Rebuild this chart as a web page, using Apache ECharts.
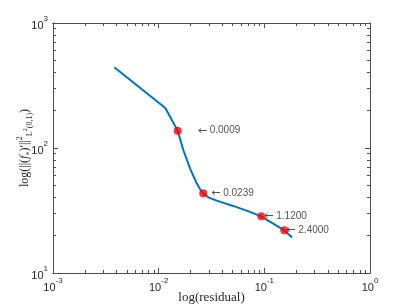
<!DOCTYPE html>
<html>
<head>
<meta charset="utf-8">
<script src="https://cdn.jsdelivr.net/npm/echarts@6/dist/echarts.min.js"></script>
<style>html,body{margin:0;padding:0;background:#fff}#c{width:409px;height:307px}</style>
</head>
<body>
<div id="c"></div>
<script>
// Curve (residual, norm)
const residual = [0.0038, 0.01156, 0.01514, 0.0171, 0.0198, 0.0229, 0.0246, 0.0264, 0.0295, 0.0354, 0.0508, 0.0731, 0.0935, 0.1545, 0.183];
const normVals = [442, 209, 137.5, 96.4, 68.8, 52.2, 47.0, 43.4, 40.3, 37.9, 34.4, 30.8, 28.4, 21.96, 19.2];
// Marked points
const markX = [0.01514, 0.0264, 0.0935, 0.1545];
const markY = [137.5, 43.4, 28.4, 21.96];
const markLabels = ['0.0009', '0.0239', '1.1200', '2.4000'];
const markLabelGap = [16, 4, -1, -2];
// Ticks
const xMajor = [0.001, 0.01, 0.1, 1];
const yMajor = [10, 100, 1000];
const xMinor = [];
const yMinor = [];
[0.001, 0.01, 0.1].forEach(d => { for (let k = 2; k <= 9; k++) xMinor.push(d * k); });
[10, 100].forEach(d => { for (let k = 2; k <= 9; k++) yMinor.push(d * k); });

const axisColor = '#4d4d4d';
const txtColor = '#262626';
const supRich = {
  b: {fontSize: 11, color: txtColor, fontFamily: 'Liberation Sans, Arial', lineHeight: 16, verticalAlign: 'bottom'},
  s: {fontSize: 8, color: txtColor, fontFamily: 'Liberation Sans, Arial', lineHeight: 16, verticalAlign: 'top'}
};
const fmt = v => '{b|10}{s|' + Math.round(Math.log10(v)) + '}';

function mkAxis(pos, isX, minor, labels, min, max) {
  return {
    type: 'log', logBase: 10, min: min, max: max, position: pos,
    gridIndex: 0,
    axisLine: {show: true, onZero: false, lineStyle: {color: axisColor, width: 1}},
    axisTick: {show: true, inside: true, length: minor ? 3 : 5,
      customValues: minor ? (isX ? xMinor : yMinor) : (isX ? xMajor : yMajor),
      lineStyle: {color: axisColor, width: 1}},
    axisLabel: labels ? {show: true, customValues: isX ? xMajor : yMajor, formatter: fmt, rich: supRich, margin: isX ? 4 : 5} : {show: false},
    splitLine: {show: false},
    minorTick: {show: false}
  };
}

const xAxes = [
  mkAxis('bottom', true, false, true, 0.001, 1),
  mkAxis('bottom', true, true, false, 0.001, 1),
  mkAxis('top', true, false, false, 0.001, 1),
  mkAxis('top', true, true, false, 0.001, 1)
];
xAxes[0].name = 'log(residual)';
xAxes[0].nameLocation = 'middle';
xAxes[0].nameGap = 18;
xAxes[0].nameMoveOverlap = false;
xAxes[0].nameTextStyle = {fontFamily: 'Liberation Serif, DejaVu Serif, serif', fontSize: 13, color: txtColor};

const yAxes = [
  mkAxis('left', false, false, true, 10, 1000),
  mkAxis('left', false, true, false, 10, 1000),
  mkAxis('right', false, false, false, 10, 1000),
  mkAxis('right', false, true, false, 10, 1000)
];
yAxes[0].name = '{n|log(||(}{i|f}{sb|*}{n|)′||}{sp|2}{sb|L}{ssp|2}{sb|(0,1)}{n|)}';
yAxes[0].nameLocation = 'middle';
yAxes[0].nameRotate = 90;
yAxes[0].nameGap = 19;
yAxes[0].nameMoveOverlap = false;
const serif = 'Liberation Serif, DejaVu Serif, serif';
yAxes[0].nameTextStyle = {
  color: txtColor,
  rich: {
    n: {fontFamily: serif, fontSize: 12, color: txtColor, lineHeight: 18, verticalAlign: 'middle'},
    i: {fontFamily: serif, fontSize: 12, fontStyle: 'italic', color: txtColor, lineHeight: 18, verticalAlign: 'middle'},
    sb: {fontFamily: serif, fontSize: 8, color: txtColor, lineHeight: 18, verticalAlign: 'bottom'},
    sp: {fontFamily: serif, fontSize: 8, color: txtColor, lineHeight: 18, verticalAlign: 'top'},
    ssp: {fontFamily: serif, fontSize: 6, color: txtColor, lineHeight: 18, verticalAlign: 'middle'}
  }
};

const chart = echarts.init(document.getElementById('c'), null, {renderer: 'canvas'});
chart.setOption({
  animation: false,
  backgroundColor: '#fff',
  grid: {left: 53, top: 23, right: 39, bottom: 34, containLabel: false, outerBoundsMode: 'none'},
  xAxis: xAxes,
  yAxis: yAxes,
  series: [
    {
      type: 'line', xAxisIndex: 0, yAxisIndex: 0,
      data: residual.map((x, i) => [x, normVals[i]]),
      showSymbol: false, symbol: 'none',
      lineStyle: {color: '#0072BD', width: 2},
      z: 2
    },
    {
      type: 'scatter', xAxisIndex: 0, yAxisIndex: 0,
      symbol: 'circle', symbolSize: 8,
      itemStyle: {color: '#ff0000'},
      z: 3,
      data: markX.map((x, i) => ({
        value: [x, markY[i]],
        label: {
          show: true, position: 'right', distance: markLabelGap[i],
          formatter: '{a|←} ' + markLabels[i],
          fontFamily: 'Liberation Sans, Arial', fontSize: 10, color: txtColor,
          rich: {a: {fontFamily: 'DejaVu Sans', fontSize: 11, color: txtColor}}
        }
      }))
    }
  ]
});
</script>
</body>
</html>
